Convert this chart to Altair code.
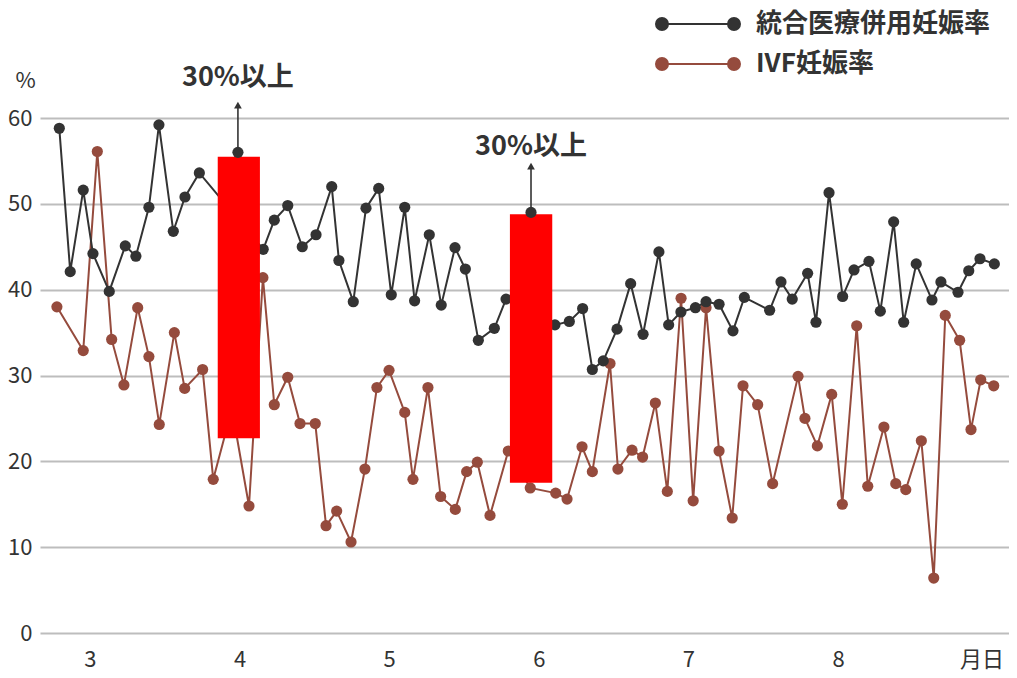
import altair as alt
import pandas as pd

SERIES = ["統合医療併用妊娠率", "IVF妊娠率"]
COLORS = ["#333333", "#954B3D"]

# x = position in months (3 = March ... 8 = August)
black_x = [2.795, 2.868, 2.955, 3.020, 3.129, 3.236, 3.307, 3.394, 3.461, 3.557,
           3.635, 3.731, 4.158, 4.232, 4.322, 4.419, 4.511, 4.616, 4.664, 4.760,
           4.845, 4.930, 5.014, 5.104, 5.170, 5.268, 5.348, 5.440, 5.509, 5.596,
           5.703, 5.781, 6.108, 6.204, 6.293, 6.358, 6.431, 6.523, 6.614, 6.697,
           6.803, 6.868, 6.950, 7.047, 7.118, 7.205, 7.298, 7.374, 7.543, 7.619,
           7.694, 7.797, 7.853, 7.940, 8.031, 8.107, 8.207, 8.283, 8.372, 8.439,
           8.523, 8.628, 8.688, 8.802, 8.874, 8.949, 9.045]
black_y = [58.8, 42.1, 51.6, 44.2, 39.8, 45.1, 43.9, 49.6, 59.2, 46.8,
           50.8, 53.6, 44.7, 48.1, 49.8, 45.0, 46.4, 52.0, 43.4, 38.6,
           49.5, 51.8, 39.4, 49.6, 38.7, 46.4, 38.2, 44.9, 42.4, 34.1,
           35.5, 38.9, 35.9, 36.3, 37.8, 30.7, 31.7, 35.4, 40.7, 34.8,
           44.4, 35.9, 37.4, 37.9, 38.6, 38.3, 35.2, 39.1, 37.6, 40.9,
           38.9, 41.9, 36.2, 51.3, 39.2, 42.3, 43.3, 37.5, 47.9, 36.2,
           43.0, 38.8, 40.9, 39.7, 42.2, 43.6, 43.0]

ivf_x = [2.779, 2.955, 3.049, 3.145, 3.227, 3.319, 3.394, 3.463, 3.564, 3.633,
         3.753, 3.824, 3.949, 4.063, 4.156, 4.232, 4.322, 4.404, 4.506, 4.578,
         4.649, 4.745, 4.838, 4.918, 4.999, 5.104, 5.159, 5.259, 5.344, 5.442,
         5.518, 5.589, 5.674, 5.796, 5.943, 6.113, 6.189, 6.289, 6.358, 6.476,
         6.529, 6.623, 6.694, 6.779, 6.859, 6.951, 7.032, 7.118, 7.205, 7.293,
         7.365, 7.463, 7.563, 7.733, 7.779, 7.862, 7.958, 8.029, 8.125, 8.199,
         8.307, 8.386, 8.453, 8.557, 8.640, 8.717, 8.813, 8.889, 8.954, 9.041]
ivf_y = [38.0, 32.9, 56.1, 34.2, 28.9, 37.9, 32.2, 24.3, 35.0, 28.5,
         30.7, 17.9, 26.1, 14.8, 41.4, 26.6, 29.8, 24.4, 24.4, 12.5,
         14.2, 10.6, 19.1, 28.6, 30.6, 25.7, 17.9, 28.6, 15.9, 14.4,
         18.8, 19.9, 13.7, 21.2, 16.9, 16.3, 15.6, 21.7, 18.8, 31.4,
         19.1, 21.3, 20.5, 26.8, 16.5, 39.0, 15.4, 37.9, 21.2, 13.4,
         28.8, 26.6, 17.4, 29.9, 25.0, 21.8, 27.8, 15.0, 35.8, 17.1,
         24.0, 17.4, 16.7, 22.4, 6.4, 37.0, 34.1, 23.7, 29.5, 28.8]

# highlighted ranges (red boxes)
bar_x0 = [3.854, 5.807]
bar_x1 = [4.136, 6.090]
bar_lo = [22.7, 17.5]
bar_hi = [55.5, 48.8]

# annotations
ann_x = [3.989, 5.948]
ann_y = [56.0, 49.0]
ann_tip = [61.5, 54.4]
ann_label_y = [64.7, 56.6]
ann_text = ["30%以上", "30%以上"]

month_ticks = [3, 4, 5, 6, 7, 8, 8.96]

FONT = "Noto Sans CJK JP"
X_DOMAIN = [2.666, 9.143]

df = pd.concat([
    pd.DataFrame({"x": black_x, "y": black_y, "series": SERIES[0]}),
    pd.DataFrame({"x": ivf_x, "y": ivf_y, "series": SERIES[1]}),
], ignore_index=True)
bars = pd.DataFrame({"x0": bar_x0, "x1": bar_x1, "lo": bar_lo, "hi": bar_hi})
ann = pd.DataFrame({"x": ann_x, "y": ann_y, "tip": ann_tip, "ly": ann_label_y, "t": ann_text})

LEG_PATH = ("M-3.6,0L3.6,0"
            "M-3,0A0.6,0.6,0,1,1,-4.2,0A0.6,0.6,0,1,1,-3,0Z"
            "M4.2,0A0.6,0.6,0,1,1,3,0A0.6,0.6,0,1,1,4.2,0Z")
leg = alt.Legend(title=None, orient="none", legendX=645, legendY=-107,
                 symbolType=LEG_PATH, symbolSize=400, symbolStrokeWidth=2,
                 labelFontSize=26, labelFont=FONT, labelFontWeight="bold",
                 labelColor="#333333", labelOffset=45, rowPadding=14,
                 labelLimit=500, padding=0)
cscale = alt.Scale(domain=SERIES, range=COLORS)

xenc = alt.X("x:Q", scale=alt.Scale(domain=X_DOMAIN, nice=False, zero=False),
             axis=alt.Axis(values=month_ticks, title=None, grid=False, domain=False,
                           ticks=False, labelFontSize=22, labelFont=FONT, format="d",
                           labelColor="#333333", labelPadding=16,
                           labelExpr="datum.value > 8.5 ? '月日' : datum.label"))
yenc = alt.Y("y:Q", scale=alt.Scale(domain=[0, 60], nice=False),
             axis=alt.Axis(values=[0, 10, 20, 30, 40, 50, 60], title="%", titleAngle=0,
                           titleX=-15, titleY=-38, titleAlign="center",
                           titleBaseline="middle", titleFontSize=22,
                           titleFontWeight="normal", titleFont=FONT, titleColor="#333333",
                           grid=True, gridColor="#bdbdbd", gridWidth=2,
                           domain=False, ticks=False, labelFontSize=22, labelFont=FONT,
                           labelColor="#333333", labelPadding=8))

def series_layers(name):
    base = alt.Chart(df).transform_filter(alt.datum.series == name)
    line = base.mark_line(strokeWidth=2).encode(
        x=xenc, y=yenc, stroke=alt.Stroke("series:N", scale=cscale, legend=leg))
    pts = base.mark_point(filled=True, size=125, opacity=1, strokeWidth=0).encode(
        x="x:Q", y="y:Q", fill=alt.Fill("series:N", scale=cscale, legend=leg))
    return [line, pts]

rects = alt.Chart(bars).mark_rect(color="#FF0000", opacity=1).encode(
    x="x0:Q", x2="x1:Q", y="lo:Q", y2="hi:Q")
arrow = alt.Chart(ann).mark_rule(color="#333333", strokeWidth=1.6).encode(
    x="x:Q", y="y:Q", y2="tip:Q")
heads = alt.Chart(ann).mark_point(shape="triangle-up", filled=True, size=60,
                                  color="#333333", opacity=1).encode(x="x:Q", y="tip:Q")
dots = alt.Chart(ann).mark_point(filled=True, size=125, color="#333333", opacity=1,
                                 strokeWidth=0).encode(x="x:Q", y="y:Q")
labels = alt.Chart(ann).mark_text(fontSize=27, fontWeight="bold", font=FONT,
                                  color="#333333", baseline="middle").encode(
    x="x:Q", y="ly:Q", text="t:N")

chart = alt.layer(
    *series_layers(SERIES[1]), *series_layers(SERIES[0]),
    rects, arrow, heads, dots, labels
).properties(
    width=969, height=515,
    autosize=alt.AutoSizeParams(type="none"),
    padding={"left": 32, "top": 110, "right": 0, "bottom": 44},
).configure_view(stroke=None)

chart.save("out.html", embed_options={"renderer": "svg", "actions": False})
